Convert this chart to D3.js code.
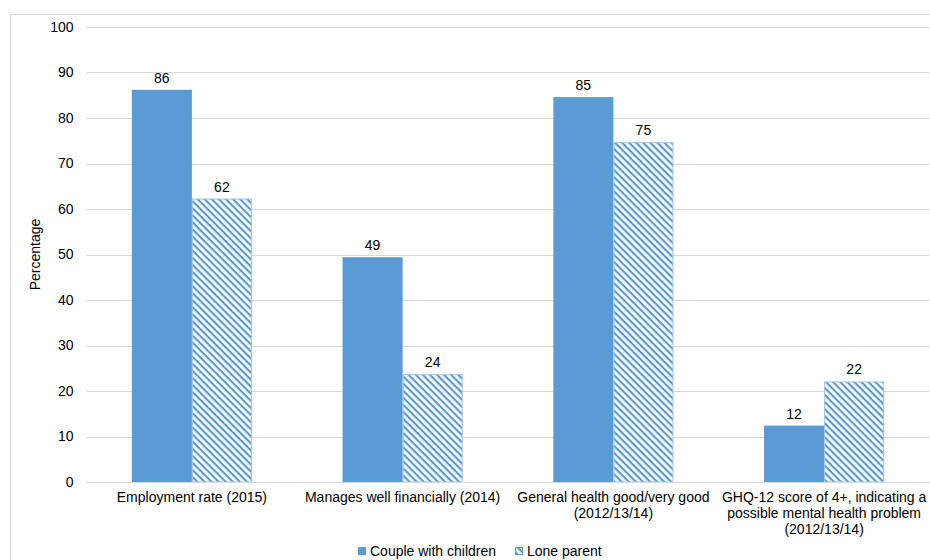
<!DOCTYPE html>
<html><head><meta charset="utf-8">
<script src="https://cdn.jsdelivr.net/npm/d3@7"></script>
<style>body{margin:0;background:#fff;font-family:"Liberation Sans",Arial,sans-serif;}</style>
</head><body><svg id="c" width="930" height="560"></svg>
<script>
const categories = [
  ["Employment rate (2015)"],
  ["Manages well financially (2014)"],
  ["General health good/very good", "(2012/13/14)"],
  ["GHQ-12 score of 4+, indicating a", "possible mental health problem", "(2012/13/14)"]
];
const seriesNames = ["Couple with children", "Lone parent"];
const coupleValues = [86.2, 49.4, 84.6, 12.4];
const loneValues = [62.3, 23.7, 74.7, 22.1];
const valueLabels = [[86, 62], [49, 24], [85, 75], [12, 22]];
const yTicks = [0, 10, 20, 30, 40, 50, 60, 70, 80, 90, 100];

(function(){
const svg = d3.select("#c");
const blue = "#5b9bd5";
const fs = 14;
const defs = svg.append("defs");
const pat = defs.append("pattern").attr("id","hatch").attr("patternUnits","userSpaceOnUse")
  .attr("width",5).attr("height",5).attr("patternTransform","rotate(45)");
pat.append("rect").attr("width",5).attr("height",5).attr("fill","#fff");
pat.append("rect").attr("x",0).attr("y",0).attr("width",5).attr("height",2.2).attr("fill",blue);

svg.append("rect").attr("x",10.5).attr("y",14.5).attr("width",940).attr("height",560).attr("fill","none").attr("stroke","#d9d9d9");

const mLeft = 86.5, mRight = 929.5, mTop = 27, mBottom = 482;
const x = d3.scaleBand().domain(d3.range(categories.length)).range([mLeft, mRight]).paddingInner(0.43).paddingOuter(0.215);
const y = d3.scaleLinear().domain([0, 100]).range([mBottom, mTop]);

svg.append("g").selectAll("line").data(yTicks).join("line")
  .attr("x1", mLeft).attr("x2", mRight).attr("y1", d => Math.round(y(d))+0.5).attr("y2", d => Math.round(y(d))+0.5)
  .attr("stroke", "#d9d9d9").attr("stroke-width", 1);

const yAxis = d3.axisLeft(y).tickValues(yTicks).tickSize(0).tickPadding(13);
const ya = svg.append("g").attr("transform", `translate(${mLeft},0)`).call(yAxis);
ya.select(".domain").remove();
ya.selectAll("text").attr("font-size", fs).attr("fill", "#000").attr("font-family", '"Liberation Sans",Arial,sans-serif');

svg.append("text").attr("transform", `translate(40,${(mTop+mBottom)/2}) rotate(-90)`)
  .attr("text-anchor","middle").attr("font-size",fs).text("Percentage");

const bw = x.bandwidth()/2;
const groups = svg.append("g").selectAll("g").data(categories.map((c,i)=>i)).join("g");
groups.append("rect").attr("x", i => x(i)).attr("width", bw)
  .attr("y", i => y(coupleValues[i])).attr("height", i => mBottom - y(coupleValues[i])).attr("fill", blue);
groups.append("rect").attr("x", i => x(i)+bw+0.5).attr("width", bw-1)
  .attr("y", i => y(loneValues[i])+0.5).attr("height", i => mBottom - y(loneValues[i]) - 0.5)
  .attr("fill", "url(#hatch)").attr("stroke", "#9dc3e6").attr("stroke-width", 1);
groups.append("text").attr("x", i => x(i)+bw/2).attr("y", i => y(coupleValues[i]) - 7)
  .attr("text-anchor","middle").attr("font-size",fs).text(i => valueLabels[i][0]);
groups.append("text").attr("x", i => x(i)+bw*1.5).attr("y", i => y(loneValues[i]) - 7)
  .attr("text-anchor","middle").attr("font-size",fs).text(i => valueLabels[i][1]);

svg.append("line").attr("x1", mLeft).attr("x2", mRight).attr("y1", mBottom+0.5).attr("y2", mBottom+0.5).attr("stroke","#d9d9d9");

const cl = svg.append("g").selectAll("text").data(categories).join("text")
  .attr("x", (d,i) => x(i)+x.bandwidth()/2).attr("y", 502).attr("text-anchor","middle").attr("font-size",fs);
cl.selectAll("tspan").data(d => d).join("tspan").attr("x", function(){return this.parentNode.getAttribute("x");})
  .attr("dy", (d,j) => j===0 ? 0 : 16).text(d => d);

const lg = svg.append("g").attr("transform","translate(358,556)");
lg.append("rect").attr("x",0).attr("y",-9).attr("width",8).attr("height",8).attr("fill",blue);
lg.append("text").attr("x",12).attr("y",0).attr("font-size",fs).text(seriesNames[0]);
lg.append("rect").attr("x",157.5).attr("y",-8.5).attr("width",7).attr("height",7).attr("fill","url(#hatch)").attr("stroke",blue);
lg.append("text").attr("x",169).attr("y",0).attr("font-size",fs).text(seriesNames[1]);
})();
</script></body></html>
